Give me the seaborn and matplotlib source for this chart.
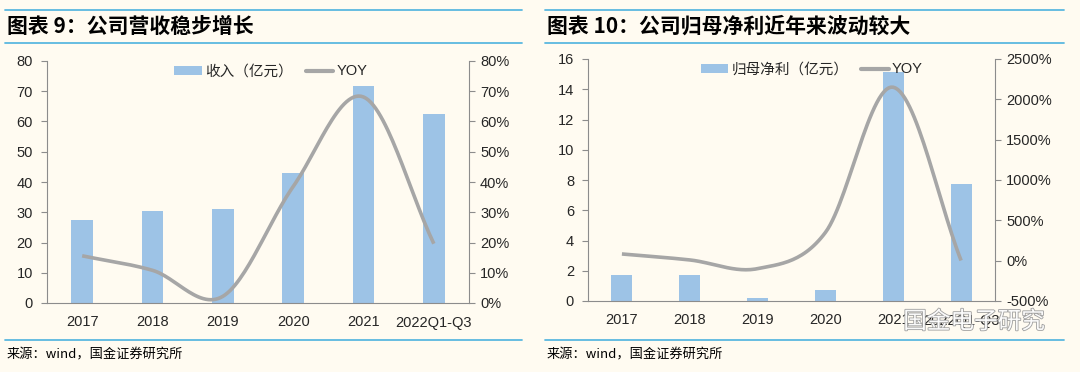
import numpy as np
import pandas as pd
import seaborn as sns
import matplotlib
matplotlib.use("Agg")
import matplotlib.pyplot as plt
from matplotlib.patches import Patch
from matplotlib.lines import Line2D
from matplotlib.ticker import FuncFormatter, FixedLocator
import matplotlib.patheffects as pe

# ---------------- data ----------------
categories = ["2017", "2018", "2019", "2020", "2021", "2022Q1-Q3"]
revenue = [27.5, 30.3, 31.1, 42.9, 71.9, 62.4]          # 收入（亿元）
revenue_yoy = [15.6, 10.8, 2.2, 38.5, 68.1, 19.6]       # %
profit = [1.70, 1.70, 0.20, 0.71, 15.15, 7.72]          # 归母净利（亿元）
profit_yoy = [83, 9, -99, 350, 2150, 2]                 # %

BG = "#FFFBF1"
BAR = "#9DC3E6"
LINE = "#A6A6A6"
RULE = "#5BB8E0"
AXC = "#8C8C8C"

sns.set_style("white", {"axes.facecolor": BG, "figure.facecolor": BG})
plt.rcParams["font.family"] = ["Liberation Sans", "Noto Sans CJK SC", "DejaVu Sans"]
CJK = ["Noto Sans CJK SC", "DejaVu Sans"]


def smooth(xs, ys, n=30):
    """Catmull-Rom rendering of a smoothed line through the data points."""
    xs = np.asarray(xs, float)
    ys = np.asarray(ys, float)
    P = np.column_stack([xs, ys])
    P = np.vstack([P[0] - (P[1] - P[0]), P, P[-1] + (P[-1] - P[-2])])
    out = []
    t = np.linspace(0, 1, n)[:, None]
    for i in range(1, len(P) - 2):
        p0, p1, p2, p3 = P[i - 1], P[i], P[i + 1], P[i + 2]
        seg = 0.5 * ((2 * p1) + (-p0 + p2) * t + (2 * p0 - 5 * p1 + 4 * p2 - p3) * t ** 2
                     + (-p0 + 3 * p1 - 3 * p2 + p3) * t ** 3)
        out.append(seg if i == 1 else seg[1:])
    out = np.vstack(out)
    return out[:, 0], out[:, 1]


fig = plt.figure(figsize=(10.8, 3.72), dpi=100)
fig.patch.set_facecolor(BG)


def panel(rect, vals, yoy, bar_label, ylim, yticks, y2lim, y2ticks, title, rule_x, leg_x):
    ax = fig.add_axes(rect)
    ax.set_facecolor(BG)
    df = pd.DataFrame({"cat": categories, "val": vals})
    sns.barplot(data=df, x="cat", y="val", ax=ax, color=BAR, width=0.31,
                saturation=1, edgecolor="none", zorder=2)
    ax.set_xlim(-0.5, len(categories) - 0.5)
    ax.set_ylim(*ylim)
    ax.yaxis.set_major_locator(FixedLocator(yticks))
    ax.set_xlabel("")
    ax.set_ylabel("")
    ax2 = ax.twinx()
    sx, sy = smooth(range(len(categories)), yoy)
    ax2.plot(sx, sy, color=LINE, lw=2.6, solid_capstyle="butt", zorder=3)
    ax2.set_ylim(*y2lim)
    ax2.yaxis.set_major_locator(FixedLocator(y2ticks))
    ax2.yaxis.set_major_formatter(FuncFormatter(lambda v, p: f"{v:.0f}%"))
    for a in (ax, ax2):
        a.spines["top"].set_visible(False)
        for s in ("left", "right", "bottom"):
            a.spines[s].set_color(AXC)
            a.spines[s].set_linewidth(0.8)
    ax.spines["right"].set_visible(False)
    ax2.spines["left"].set_visible(False)
    ax2.spines["bottom"].set_visible(False)
    ax.tick_params(axis="y", direction="out", length=4, color=AXC, labelsize=10.5, pad=6)
    ax2.tick_params(axis="y", direction="out", length=4, color=AXC, labelsize=10.5, pad=4)
    ax.set_xticks(range(len(categories)))
    ax.set_xticklabels(categories)
    ax.tick_params(axis="x", which="major", length=0, labelsize=10.5, pad=9)
    ax.set_xticks(np.arange(-0.5, len(categories)), minor=True)
    ax.tick_params(axis="x", which="minor", direction="out", length=4, color=AXC)

    handles = [Patch(facecolor=BAR, edgecolor="none"), Line2D([], [], color=LINE, lw=3)]
    leg = ax2.legend(handles, [bar_label, "YOY"], loc="upper center", bbox_to_anchor=(leg_x, 1.04),
                     ncol=2, frameon=False, fontsize=10.5, handlelength=1.9, handleheight=0.6,
                     columnspacing=0.9, handletextpad=0.2)
    for t in leg.get_texts():
        t.set_family(["Liberation Sans", "Noto Sans CJK SC"])

    # header / footer decorations
    x0, x1 = rule_x
    for yy in (10, 43, 340):
        fig.add_artist(Line2D([x0, x1], [1 - yy / 372, 1 - yy / 372], color=RULE, lw=1.3))
    fig.text(x0 + 2 / 1080, 1 - 26 / 372, title, family=CJK, fontsize=15, fontweight="bold",
             va="center", ha="left", color="black")
    fig.text(x0 + 2 / 1080, 1 - 355 / 372, "来源：wind，国金证券研究所", family=CJK, fontsize=9.5,
             va="center", ha="left", color="black")
    return ax, ax2


panel([47 / 1080, 1 - 303 / 372, 422 / 1080, 242 / 372], revenue, revenue_yoy, "收入（亿元）",
      (0, 80), range(0, 81, 10), (0, 80), range(0, 81, 10), "图表 9：公司营收稳步增长",
      (5 / 1080, 522 / 1080), 0.53)
panel([588 / 1080, 1 - 301 / 372, 407 / 1080, 242 / 372], profit, profit_yoy, "归母净利（亿元）",
      (0, 16), range(0, 17, 2), (-500, 2500), range(-500, 2501, 500), "图表 10：公司归母净利近年来波动较大",
      (545 / 1080, 1064 / 1080), 0.55)

# watermark
fig.text(1045 / 1080, 1 - 322 / 372, "国金电子研究", family=CJK, fontsize=17, color="white",
         ha="right", va="center", alpha=0.95,
         path_effects=[pe.withStroke(linewidth=1.2, foreground="#9A9A9A")])

fig.savefig("out.png", dpi=100, facecolor=BG)
